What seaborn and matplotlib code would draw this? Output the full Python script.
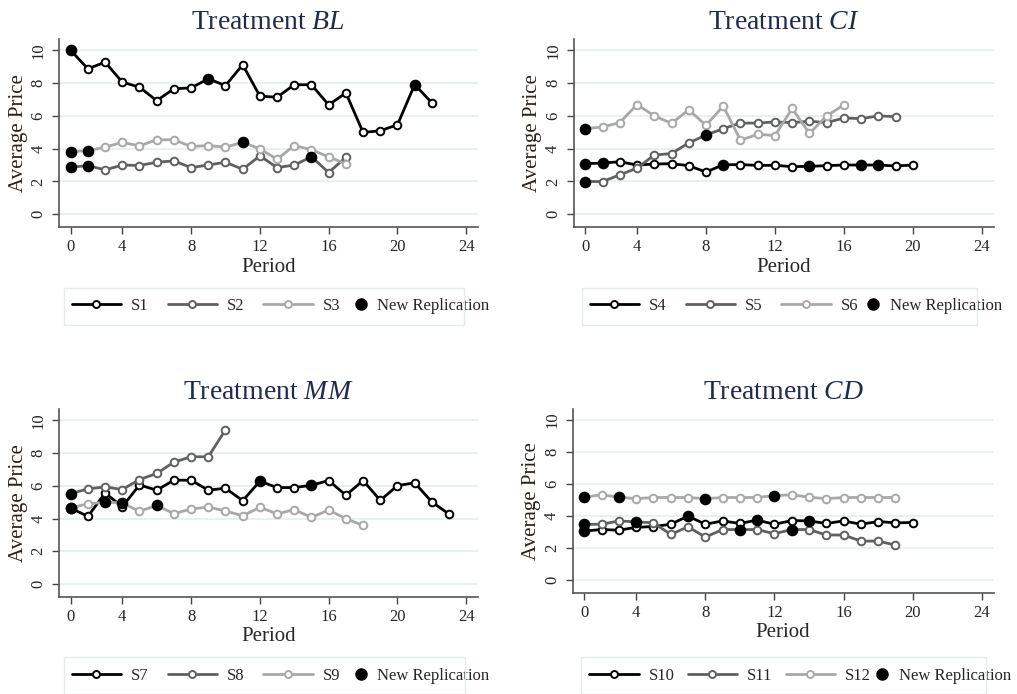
import numpy as np
import pandas as pd
import seaborn as sns
import matplotlib.pyplot as plt
from matplotlib.lines import Line2D
from matplotlib.patches import Rectangle
from matplotlib.transforms import IdentityTransform

# Average price per period; period 1 sits on the "0" tick like in the original figure
# Treatment BL
bl_s1 = [10.0, 8.87, 9.28, 8.06, 7.75, 6.93, 7.65, 7.71, 8.26, 7.85, 9.12, 7.2, 7.14, 7.9, 7.9,
         6.67, 7.4, 4.99, 5.09, 5.46, 7.91, 6.79]
bl_s2 = [2.86, 2.97, 2.7, 3.0, 2.97, 3.17, 3.25, 2.84, 3.0, 3.17, 2.74, 3.56, 2.84, 3.0, 3.5, 2.54, 3.48]
bl_s3 = [3.82, 3.87, 4.09, 4.38, 4.17, 4.54, 4.54, 4.13, 4.19, 4.09, 4.38, 3.99, 3.35, 4.19, 3.93, 3.5, 3.07]
bl_new = [[1, 9, 21], [1, 2, 15], [1, 2, 11]]

# Treatment CI
ci_s4 = [3.08, 3.12, 3.2, 3.0, 3.06, 3.08, 2.96, 2.57, 3.02, 3.02, 2.98, 2.98, 2.9, 2.92, 2.96,
         3.0, 3.0, 3.0, 2.94, 3.0]
ci_s5 = [1.99, 1.99, 2.4, 2.81, 3.61, 3.7, 4.35, 4.83, 5.22, 5.56, 5.56, 5.63, 5.59, 5.67, 5.59,
         5.87, 5.83, 6.0, 5.95]
ci_s6 = [5.22, 5.32, 5.59, 6.69, 6.0, 5.54, 6.37, 5.42, 6.59, 4.52, 4.87, 4.8, 6.45, 4.93, 6.0, 6.67]
ci_new = [[1, 2, 9, 14, 17, 18], [1, 8], [1]]

# Treatment MM
mm_s7 = [4.64, 4.13, 5.56, 4.72, 6.05, 5.73, 6.34, 6.34, 5.73, 5.85, 5.09, 6.28, 5.89, 5.89, 6.03,
         6.32, 5.42, 6.32, 5.11, 6.01, 6.18, 5.01, 4.27]
mm_s8 = [5.52, 5.81, 5.93, 5.77, 6.38, 6.75, 7.44, 7.77, 7.77, 9.41]
mm_s9 = [4.66, 4.89, 5.0, 4.95, 4.44, 4.8, 4.3, 4.58, 4.7, 4.46, 4.17, 4.68, 4.29, 4.54, 4.07,
         4.52, 3.99, 3.58]
mm_new = [[1, 12, 15], [1], [1, 3, 4, 6]]

# Treatment CD
cd_s10 = [3.07, 3.16, 3.12, 3.3, 3.35, 3.49, 4.0, 3.49, 3.7, 3.54, 3.75, 3.49, 3.72, 3.7, 3.54,
          3.7, 3.49, 3.66, 3.58, 3.6]
cd_s11 = [3.49, 3.49, 3.7, 3.64, 3.58, 2.86, 3.33, 2.69, 3.16, 3.16, 3.16, 2.9, 3.16, 3.16, 2.82,
          2.82, 2.44, 2.44, 2.19]
cd_s12 = [5.18, 5.33, 5.18, 5.09, 5.16, 5.16, 5.16, 5.09, 5.16, 5.16, 5.16, 5.28, 5.33, 5.18, 5.09,
          5.16, 5.16, 5.16, 5.16]
cd_new = [[1, 7, 11, 14], [1, 4, 10, 13], [1, 3, 8, 12]]

x_tick_pos = [1, 4, 8, 12, 16, 20, 24]
x_tick_labels = ["0", "4", "8", "12", "16", "20", "24"]
y_ticks = [0, 2, 4, 6, 8, 10]

panels = [
    ("BL", ["S1", "S2", "S3"], [bl_s1, bl_s2, bl_s3], bl_new),
    ("CI", ["S4", "S5", "S6"], [ci_s4, ci_s5, ci_s6], ci_new),
    ("MM", ["S7", "S8", "S9"], [mm_s7, mm_s8, mm_s9], mm_new),
    ("CD", ["S10", "S11", "S12"], [cd_s10, cd_s11, cd_s12], cd_new),
]
rects = [
    [0.058, 0.673, 0.412, 0.271],
    [0.564, 0.673, 0.413, 0.271],
    [0.058, 0.140, 0.412, 0.271],
    [0.563, 0.146, 0.414, 0.265],
]
# legend placement per panel: left start (axes frac), centre height (figure frac),
# gap before dot (px), spacing between columns
legend_x = [0.03, 0.038, 0.03, 0.04]
legend_fig_y = [0.559, 0.559, 0.026, 0.026]
dot_gap = [14, 8, 14, 5]
col_space = [1.15, 1.15, 1.15, 0.8]
colors = ["#000000", "#606060", "#a8a8a8"]

sns.set_theme(style="white")
plt.rcParams["font.family"] = ["Liberation Serif", "DejaVu Serif"]
plt.rcParams["mathtext.fontset"] = "custom"
plt.rcParams["mathtext.rm"] = "Liberation Serif"
plt.rcParams["mathtext.it"] = "Liberation Serif:italic"

fig = plt.figure(figsize=(10.17, 6.94), dpi=100)
legend_pairs = []

for i, ((name, labels, series, new_reps), rect) in enumerate(zip(panels, rects)):
    ax = fig.add_axes(rect)
    for y in y_ticks:
        ax.axhline(y, color="#e6eff1", lw=1.3, zorder=0)

    for lab, vals, col in zip(labels, series, colors):
        df = pd.DataFrame({"period": np.arange(1, len(vals) + 1), "price": vals})
        sns.lineplot(data=df, x="period", y="price", ax=ax, color=col, lw=2,
                     marker="o", markersize=5.5, markerfacecolor="white",
                     markeredgecolor=col, markeredgewidth=1.4, zorder=3)
    for vals, reps in zip(series, new_reps):
        df_new = pd.DataFrame({"period": reps, "price": [vals[p - 1] for p in reps]})
        sns.scatterplot(data=df_new, x="period", y="price", ax=ax, color="black",
                        s=70, edgecolor="black", linewidth=0, zorder=5)

    ax.set_xlim(0.32, 24.68)
    ax.set_ylim(-0.78, 10.7)
    ax.set_xticks(x_tick_pos)
    ax.set_xticklabels(x_tick_labels)
    ax.set_yticks(y_ticks)
    ax.set_yticklabels([str(v) for v in y_ticks], rotation=90, va="center")
    ax.tick_params(axis="both", labelsize=12, length=5, width=1, color="#444444",
                   direction="out", left=True, bottom=True, pad=4)
    for s in ["top", "right"]:
        ax.spines[s].set_visible(False)
    for s in ["left", "bottom"]:
        ax.spines[s].set_color("#555555")
        ax.spines[s].set_linewidth(1.2)

    ax.set_xlabel("Period", fontsize=15, labelpad=1.5)
    ax.set_ylabel("Average Price", fontsize=15, labelpad=2, color="#2b2118")
    ax.set_title(r"Treatment $\mathit{" + name + "}$", fontsize=20, color="#1f2b4a", pad=7)

    # legend: three series lines, then the replication dot with a short handle
    y_leg = (legend_fig_y[i] - rect[1]) / rect[3]
    line_handles = [Line2D([], [], color=c, lw=2, marker="o", markersize=5,
                           markerfacecolor="white", markeredgecolor=c, markeredgewidth=1.4)
                    for c in colors]
    leg_a = ax.legend(line_handles, labels, loc="center left", bbox_to_anchor=(legend_x[i], y_leg),
                      ncol=3, frameon=False, fontsize=12, handlelength=2.95,
                      handletextpad=0.6, columnspacing=col_space[i], borderpad=0, borderaxespad=0)
    ax.add_artist(leg_a)
    legend_pairs.append((ax, leg_a, y_leg, dot_gap[i]))

fig.canvas.draw()
renderer = fig.canvas.get_renderer()
for ax, leg_a, y_leg, gap in legend_pairs:
    box_a = leg_a.get_window_extent(renderer)
    x_next = ax.transAxes.inverted().transform((box_a.x1 + gap, 0))[0]
    dot = Line2D([], [], color="black", lw=0, marker="o", markersize=8)
    leg_b = ax.legend([dot], ["New Replication"], loc="center left",
                      bbox_to_anchor=(x_next, y_leg), frameon=False, fontsize=12,
                      handlelength=0.8, handletextpad=0.6, borderpad=0, borderaxespad=0)
    fig.canvas.draw()
    box_b = leg_b.get_window_extent(renderer)
    cy = (box_a.y0 + box_a.y1) / 2
    x0 = box_a.x0 - 8
    x1 = box_b.x1 - 25
    fig.add_artist(Rectangle((x0, cy - 18.5), x1 - x0, 37, transform=IdentityTransform(),
                             fill=False, edgecolor="#e2ecec", lw=1.0))

fig.savefig("out.png", dpi=100)
